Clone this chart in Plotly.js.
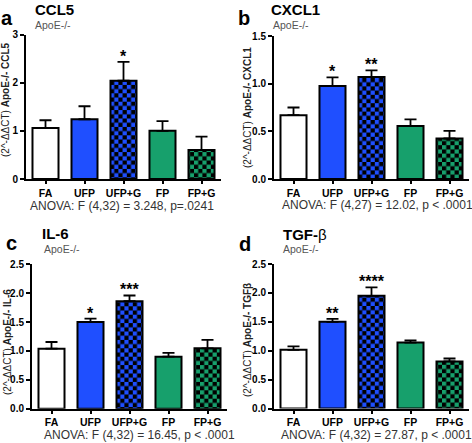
<!DOCTYPE html>
<html>
<head>
<meta charset="utf-8">
<script src="https://cdn.plot.ly/plotly-3.0.1.min.js"></script>
<style>
html,body{margin:0;padding:0;background:#fff;}
#chart{width:472px;height:443px;}
</style>
</head>
<body>
<div id="chart"></div>
<script>
// ---------- data ----------
const categories = ['FA', 'UFP', 'UFP+G', 'FP', 'FP+G'];

const ccl5Mean  = [1.06, 1.24, 2.04, 1.00, 0.60];
const ccl5Sem   = [0.16, 0.27, 0.39, 0.20, 0.28];
const ccl5Stars = ['', '', '*', '', ''];

const cxcl1Mean  = [0.67, 0.975, 1.07, 0.555, 0.425];
const cxcl1Sem   = [0.08, 0.09, 0.07, 0.07, 0.08];
const cxcl1Stars = ['', '*', '**', '', ''];

const il6Mean  = [1.04, 1.50, 1.86, 0.90, 1.045];
const il6Sem   = [0.115, 0.06, 0.10, 0.065, 0.145];
const il6Stars = ['', '*', '***', '', ''];

const tgfMean  = [1.015, 1.50, 1.95, 1.14, 0.815];
const tgfSem   = [0.06, 0.05, 0.145, 0.04, 0.05];
const tgfStars = ['', '**', '****', '', ''];

const panelLetters = ['a', 'b', 'c', 'd'];
const geneTitles = ['CCL5', 'CXCL1', 'IL-6', 'TGF-<span style="font-weight:normal">β</span>'];
const subTitles = ['ApoE-/-', 'ApoE-/-', 'ApoE-/-', 'ApoE-/-'];
const yTitles = [
  '(2^-ΔΔCT) <b>ApoE-/- CCL5</b>',
  '(2^-ΔΔCT) <b>ApoE-/- CXCL1</b>',
  '(2^-ΔΔCT) <b>ApoE-/- IL-6</b>',
  '(2^-ΔΔCT) <b>ApoE-/- TGFβ</b>'
];
const anovaTexts = [
  'ANOVA: F (4,32) = 3.248, p=.0241',
  'ANOVA: F (4,27) = 12.02, p < .0001',
  'ANOVA: F (4,32) = 16.45, p < .0001',
  'ANOVA: F (4,32) = 27.87, p < .0001'
];
const yMax = [3, 1.5, 2.5, 2.5];
const yStep = [1, 0.5, 0.5, 0.5];
const yFormat = ['d', '.1f', '.1f', '.1f'];

// ---------- styling ----------
const BLUE = '#1f4fff';
const GREEN = '#17a06c';
const barFill = ['#ffffff', BLUE, BLUE, GREEN, GREEN];
const checker = [false, false, true, false, true];
const FONT = 'Liberation Sans, Arial, sans-serif';

const W = 472, H = 443;
const px = x => x / W;
const py = y => 1 - y / H;

// panel geometry (pixels): plot-area left, right, top, bottom
const boxes = [
  {l: 26,  r: 221, t: 34.5, b: 179},
  {l: 274, r: 469, t: 36,   b: 179},
  {l: 32,  r: 227, t: 264.3, b: 408.7},
  {l: 274, r: 469, t: 264,  b: 408.5}
];
// text positions (pixels)
const letterPos = [{x: 7, y: 18}, {x: 244, y: 18}, {x: 11, y: 243}, {x: 244.5, y: 244}];
const titlePos  = [{x: 33, y: 10}, {x: 269, y: 10}, {x: 40, y: 233.5}, {x: 281, y: 234}];
const subPos    = [{x: 33, y: 25}, {x: 271, y: 25}, {x: 42, y: 249}, {x: 281, y: 249.5}];
const yTitlePos = [{x: 6, y: 100}, {x: 247, y: 108}, {x: 7, y: 342}, {x: 247, y: 340}];
const anovaPos  = [{x: 28, y: 206}, {x: 280, y: 205}, {x: 42, y: 435}, {x: 279, y: 435}];

const means = [ccl5Mean, cxcl1Mean, il6Mean, tgfMean];
const sems  = [ccl5Sem, cxcl1Sem, il6Sem, tgfSem];
const stars = [ccl5Stars, cxcl1Stars, il6Stars, tgfStars];

const data = [];
const layout = {
  width: W, height: H,
  margin: {l: 0, r: 0, t: 0, b: 0},
  paper_bgcolor: '#fff', plot_bgcolor: 'rgba(0,0,0,0)',
  showlegend: false,
  bargap: 0.333,
  font: {family: FONT, color: '#000'},
  annotations: []
};

for (let p = 0; p < 4; p++) {
  const sfx = p === 0 ? '' : String(p + 1);
  const bx = boxes[p];
  data.push({
    type: 'bar',
    x: categories,
    y: means[p],
    xaxis: 'x' + sfx, yaxis: 'y' + sfx,
    marker: {color: barFill, line: {color: '#000', width: 2}},
    error_y: {
      type: 'data', symmetric: false,
      array: sems[p], arrayminus: sems[p].map(() => 0),
      color: '#000', thickness: 1.8, width: 6
    },
    hoverinfo: 'skip'
  });
  const tickVals = [];
  for (let v = 0; v <= yMax[p] + 1e-9; v += yStep[p]) tickVals.push(+v.toFixed(2));
  layout['xaxis' + sfx] = {
    domain: [px(bx.l), px(bx.r)],
    anchor: 'y' + sfx,
    type: 'category',
    range: [-0.5, 4.5],
    showline: true, linecolor: '#000', linewidth: 2,
    ticks: 'outside', ticklen: 3, tickwidth: 2, tickcolor: '#000',
    tickfont: {family: FONT, size: 10.5, color: '#000', weight: 'bold'},
    showgrid: false, zeroline: false, automargin: false, fixedrange: true
  };
  layout['yaxis' + sfx] = {
    domain: [py(bx.b), py(bx.t)],
    anchor: 'x' + sfx,
    range: [0, yMax[p]],
    tickvals: tickVals,
    tickformat: yFormat[p],
    showline: true, linecolor: '#000', linewidth: 2,
    ticks: 'outside', ticklen: 4, tickwidth: 2, tickcolor: '#000',
    tickfont: {family: FONT, size: 10, color: '#000', weight: 'bold'},
    showgrid: false, zeroline: false, automargin: false, fixedrange: true
  };

  const A = layout.annotations;
  A.push({xref: 'paper', yref: 'paper', x: px(letterPos[p].x), y: py(letterPos[p].y),
    xanchor: 'center', yanchor: 'middle', showarrow: false,
    text: '<b>' + panelLetters[p] + '</b>', font: {family: FONT, size: 20, color: '#000'}});
  A.push({xref: 'paper', yref: 'paper', x: px(titlePos[p].x), y: py(titlePos[p].y),
    xanchor: 'left', yanchor: 'middle', showarrow: false,
    text: '<b>' + geneTitles[p] + '</b>', font: {family: FONT, size: 15, color: '#000'}});
  A.push({xref: 'paper', yref: 'paper', x: px(subPos[p].x), y: py(subPos[p].y),
    xanchor: 'left', yanchor: 'middle', showarrow: false,
    text: subTitles[p], font: {family: FONT, size: 10.5, color: '#555'}});
  A.push({xref: 'paper', yref: 'paper', x: px(yTitlePos[p].x), y: py(yTitlePos[p].y),
    xanchor: 'center', yanchor: 'middle', showarrow: false, textangle: -90,
    text: yTitles[p], font: {family: FONT, size: 10, color: '#222'}});
  A.push({xref: 'paper', yref: 'paper', x: px(anovaPos[p].x), y: py(anovaPos[p].y),
    xanchor: 'left', yanchor: 'middle', showarrow: false,
    text: anovaTexts[p], font: {family: FONT, size: 12, color: '#333'}});
  for (let i = 0; i < categories.length; i++) {
    if (!stars[p][i]) continue;
    A.push({xref: 'x' + sfx, yref: 'y' + sfx, x: categories[i], y: means[p][i] + sems[p][i],
      xanchor: 'center', yanchor: 'bottom', yshift: -5, showarrow: false,
      text: '<b>' + stars[p][i] + '</b>', font: {family: FONT, size: 16, color: '#000'}});
  }
}

const gd = document.getElementById('chart');
Plotly.newPlot(gd, data, layout, {staticPlot: true, displayModeBar: false}).then(() => {
  const svg = gd.querySelector('svg.main-svg');
  let defs = svg.querySelector('defs');
  const NS = 'http://www.w3.org/2000/svg';
  const S = 4.2;
  function makePattern(id, color) {
    const pat = document.createElementNS(NS, 'pattern');
    pat.setAttribute('id', id);
    pat.setAttribute('patternUnits', 'userSpaceOnUse');
    pat.setAttribute('width', 2 * S);
    pat.setAttribute('height', 2 * S);
    const bg = document.createElementNS(NS, 'rect');
    bg.setAttribute('width', 2 * S); bg.setAttribute('height', 2 * S); bg.setAttribute('fill', '#000');
    pat.appendChild(bg);
    [[0, 0], [S, S]].forEach(([x, y]) => {
      const r = document.createElementNS(NS, 'rect');
      r.setAttribute('x', x); r.setAttribute('y', y);
      r.setAttribute('width', S); r.setAttribute('height', S);
      r.setAttribute('fill', color);
      pat.appendChild(r);
    });
    defs.appendChild(pat);
  }
  makePattern('chkBlue', BLUE);
  makePattern('chkGreen', GREEN);
  const traces = gd.querySelectorAll('.barlayer .trace');
  traces.forEach(tr => {
    const paths = tr.querySelectorAll('.point path');
    paths.forEach((path, i) => {
      if (checker[i]) path.style.fill = barFill[i] === BLUE ? 'url(#chkBlue)' : 'url(#chkGreen)';
    });
  });
});
</script>
</body>
</html>
